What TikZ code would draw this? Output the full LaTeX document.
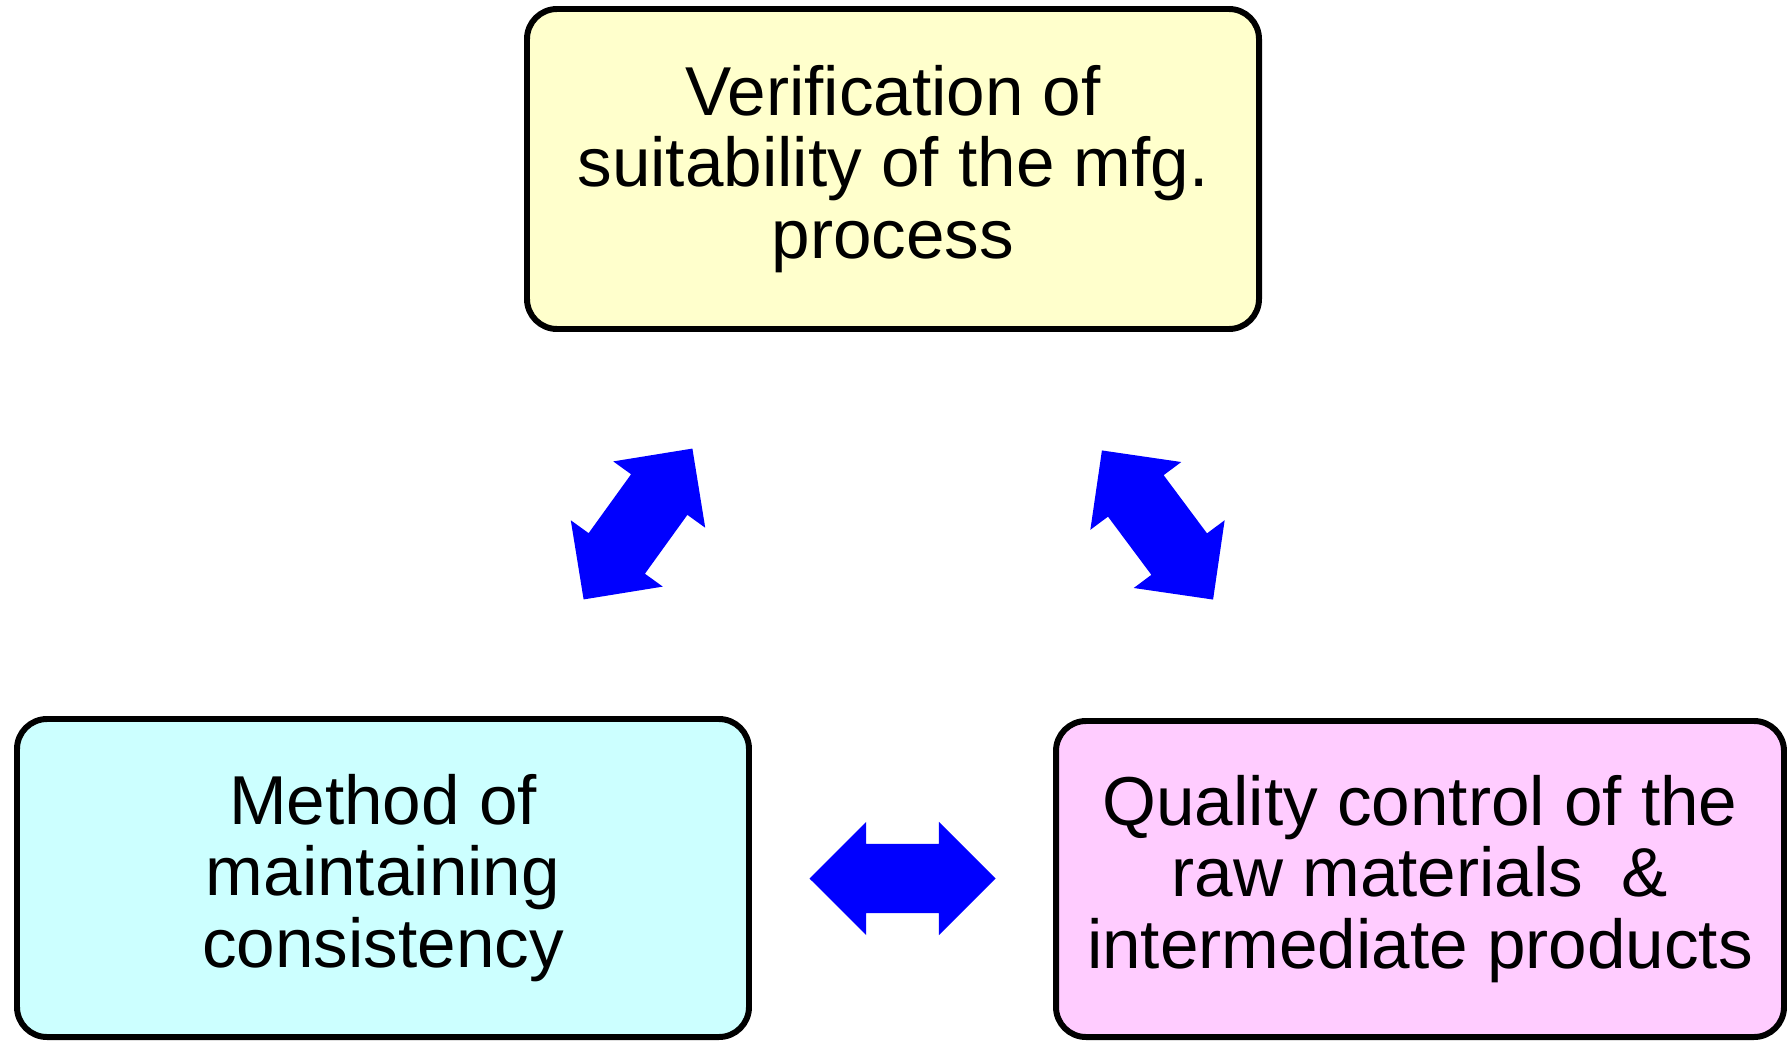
\documentclass[tikz,border=0pt]{standalone}
\usepackage{fontspec}
\setmainfont{Liberation Sans}
\usetikzlibrary{calc}
\usetikzlibrary{shapes.arrows}
\definecolor{verifyellow}{RGB}{255,255,204}
\definecolor{methodcyan}{RGB}{204,255,255}
\definecolor{qualpink}{RGB}{255,204,255}
\tikzset{
  stagebox/.style={draw=black, line width=1.7pt, rounded corners=0.3cm, align=center,
    inner sep=0pt, outer sep=0pt, font=\fontsize{19.7pt}{20.3pt}\selectfont},
  dblarrow/.style={double arrow, fill=blue, draw=none, inner xsep=0pt, inner ysep=0.34cm, outer sep=0pt,
    minimum height=1.86cm, minimum width=1.12cm,
    double arrow head extend=0.22cm, double arrow tip angle=90}
}

\begin{document}
\begin{tikzpicture}
        \useasboundingbox (0,0) rectangle (17.87,10.41);

        % boxes
        \node[stagebox, fill=verifyellow, minimum width=7.32cm, minimum height=3.20cm] (verif) at (8.93,8.72) {Verification of\\suitability of the mfg.\\process};
        \node[stagebox, fill=methodcyan, minimum width=7.32cm, minimum height=3.18cm] (method) at (3.83,1.63) {Method of\\maintaining\\consistency};
        \node[stagebox, fill=qualpink, minimum width=7.28cm, minimum height=3.16cm] (qual) at (14.20,1.62) {Quality control of the\\raw materials\ \ \&\\intermediate products};

        % arrows
        \node[dblarrow, rotate=54.2] (arrvm) at ($(verif.south west)!0.5!(method.north east)$) {};
        \node[dblarrow, rotate=-53.3] (arrvq) at ($(verif.south east)!0.5!(qual.north west)$) {};
        \node[dblarrow] (arrmq) at ($(method.east)!0.5!(qual.west)$) {};

    \end{tikzpicture}
\end{document}
